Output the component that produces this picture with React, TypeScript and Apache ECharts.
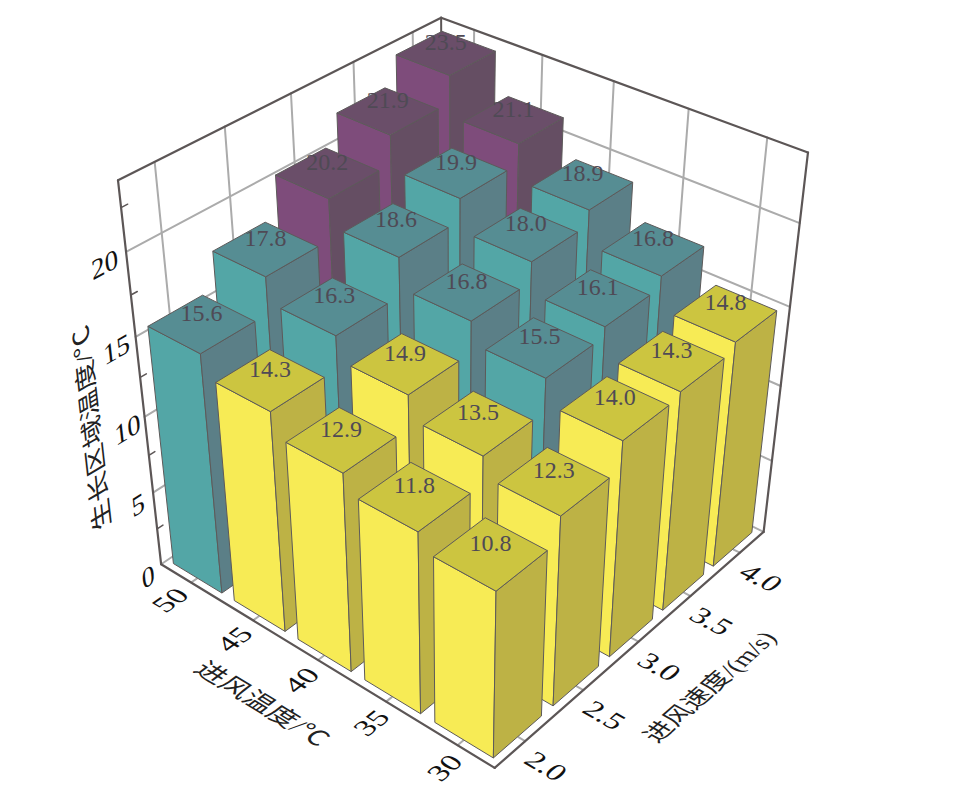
import React, { useEffect, useRef } from "react";
import * as echarts from "echarts";

const temps = ["30", "35", "40", "45", "50"];
const speeds = ["2.0", "2.5", "3.0", "3.5", "4.0"];
const at30 = [10.8, 12.3, 14.0, 14.3, 14.8];
const at35 = [11.8, 13.5, 15.5, 16.1, 16.8];
const at40 = [12.9, 14.9, 16.8, 18.0, 18.9];
const at45 = [14.3, 16.3, 18.6, 19.9, 21.1];
const at50 = [15.6, 17.8, 20.2, 21.9, 23.5];
const table = [at30, at35, at40, at45, at50];
const zTicks = [0, 5, 10, 15, 20];
const zMinor = [2.5, 7.5, 12.5, 17.5, 22.5];
const zMax = 24;
const tempTitle = "进风温度/℃";
const speedTitle = "进风速度/(m/s)";
const valueTitle = "生长区域温度/℃";

// Camera calibration: cube corner (u, v, w) -> pixel
const calib = [
  [0, 0, 0, 495, 771],
  [1, 0, 0, 160, 560],
  [0, 1, 0, 764, 528],
  [1, 0, 1, 118, 182],
  [1, 1, 1, 441, 15],
  [0, 1, 1, 808, 154],
  [1, 1, 0, 443, 380],
  [1, 0, 20 / zMax, 127, 252],
  [0, 1, 20 / zMax, 799, 223],
];

function solveCamera(): number[] {
  const n = 11;
  const A: number[][] = Array.from({ length: n }, () => new Array(n + 1).fill(0));
  const add = (r: number[], t: number) => {
    for (let i = 0; i < n; i++) {
      for (let j = 0; j < n; j++) A[i][j] += r[i] * r[j];
      A[i][n] += r[i] * t;
    }
  };
  for (const [u, v, w, x, y] of calib) {
    add([u, v, w, 1, 0, 0, 0, 0, -x * u, -x * v, -x * w], x);
    add([0, 0, 0, 0, u, v, w, 1, -y * u, -y * v, -y * w], y);
  }
  for (let c = 0; c < n; c++) {
    let p = c;
    for (let r = c + 1; r < n; r++) if (Math.abs(A[r][c]) > Math.abs(A[p][c])) p = r;
    [A[c], A[p]] = [A[p], A[c]];
    for (let r = 0; r < n; r++) {
      if (r === c) continue;
      const f = A[r][c] / A[c][c];
      for (let k = c; k <= n; k++) A[r][k] -= f * A[c][k];
    }
  }
  return A.map((row, i) => row[n] / row[i]);
}
const cam = solveCamera();
function proj(u: number, v: number, w: number): number[] {
  const d = cam[8] * u + cam[9] * v + cam[10] * w + 1;
  return [
    (cam[0] * u + cam[1] * v + cam[2] * w + cam[3]) / d,
    (cam[4] * u + cam[5] * v + cam[6] * w + cam[7]) / d,
  ];
}
function dir(a: number[], b: number[]): number[] {
  const p = proj(a[0], a[1], a[2]);
  const q = proj(b[0], b[1], b[2]);
  const l = Math.hypot(q[0] - p[0], q[1] - p[1]);
  return [(q[0] - p[0]) / l, (q[1] - p[1]) / l];
}

const FONT = '"Liberation Serif", "Noto Sans CJK SC", serif';

// Text with an arbitrary affine map, expressed as rotation-scale-rotation
function skewText(text: string, x: number, y: number, read: number[], up: number[], kr: number, ku: number, size: number, fill = "#111") {
  const m00 = read[0] * kr, m10 = read[1] * kr, m01 = -up[0] * ku, m11 = -up[1] * ku;
  const E = (m00 + m11) / 2, F = (m00 - m11) / 2, G = (m10 + m01) / 2, H = (m10 - m01) / 2;
  const Q = Math.hypot(E, H), R = Math.hypot(F, G);
  const a1 = Math.atan2(G, F), a2 = Math.atan2(H, E);
  const theta = (a2 - a1) / 2, phi = (a2 + a1) / 2;
  return {
    type: "group", x, y, rotation: -phi, silent: true,
    children: [{
      type: "group", scaleX: Q + R, scaleY: Q - R,
      children: [{
        type: "text", rotation: -theta,
        style: { text, fill, font: `${size}px ${FONT}`, align: "center", verticalAlign: "middle" },
      }],
    }],
  };
}

function seg(a: number[], b: number[], stroke: string, lineWidth: number) {
  const p = proj(a[0], a[1], a[2]);
  const q = proj(b[0], b[1], b[2]);
  return { type: "line", silent: true, shape: { x1: p[0], y1: p[1], x2: q[0], y2: q[1] }, style: { stroke, lineWidth, lineCap: "round" } };
}

const GRID = "#ababab";
const FRAME = "#5c5656";

function frameItem() {
  const ch: any[] = [];
  const cells = [0.1, 0.3, 0.5, 0.7, 0.9];
  // floor edges
  ch.push(seg([1, 0, 0], [1, 1, 0], GRID, 2), seg([0, 1, 0], [1, 1, 0], GRID, 2));
  // wall grid
  for (const t of cells) {
    ch.push(seg([1, t, 0], [1, t, 1], GRID, 2));
    ch.push(seg([t, 1, 0], [t, 1, 1], GRID, 2));
  }
  for (const z of zTicks.slice(1)) {
    const w = z / zMax;
    ch.push(seg([1, 0, w], [1, 1, w], GRID, 2));
    ch.push(seg([0, 1, w], [1, 1, w], GRID, 2));
  }
  // ticks
  for (const t of cells) {
    ch.push(seg([t, 0, 0], [t, 0.018, 0], GRID, 2));
    ch.push(seg([0, t, 0], [0.018, t, 0], GRID, 2));
  }
  for (const z of zMinor) ch.push(seg([1, 0, z / zMax], [1, 0.018, z / zMax], FRAME, 1.5));
  // frame
  ch.push(seg([1, 1, 1], [1, 1, 0.94], FRAME, 2));
  const loop = [[1, 0, 0], [0, 0, 0], [0, 1, 0], [0, 1, 1], [1, 1, 1], [1, 0, 1], [1, 0, 0]];
  for (let i = 0; i < loop.length - 1; i++) ch.push(seg(loop[i], loop[i + 1], FRAME, 2.2));

  // tick labels
  temps.forEach((s, i) => {
    const u = cells[i];
    const p = proj(u, 0, 0);
    ch.push(skewText(s, p[0] - 22 + (1 - u) * 10, p[1] + 17 + (1 - u) * 6, dir([u, 0, 0], [u, 1, 0]), dir([u, 0, 0], [1.2, 0, 0]), 1.25, 1.1, 25));
  });
  speeds.forEach((s, i) => {
    const v = cells[i];
    const p = proj(0, v, 0);
    ch.push(skewText(s, p[0] + 21, p[1] + 25, dir([1, v, 0], [0, v, 0]), dir([0, v, 0], [0, 1.2, 0]), 1.25, 1.1, 25));
  });
  zTicks.forEach((z) => {
    const w = z / zMax;
    const p = proj(1, 0, w);
    ch.push(skewText(String(z), p[0] - 13 - w * 10, p[1] + 12, dir([1, 0, w], [1, 1, w]), dir([1, 0, 0], [1, 0, 1]), 1.2, 1.1, 25));
  });
  // axis titles
  ch.push(skewText(tempTitle, 262, 704, dir([0, 0, 0], [1, 0, 0]).map((c) => -c), dir([0.5, 0, 0], [0.5, 1, 0]), 1.27, 1.15, 22, "#222"));
  ch.push(skewText(speedTitle, 710, 687, dir([0, 0, 0], [0, 1, 0]), dir([0, 0.5, 0], [1, 0.5, 0]), 1.14, 1.15, 22, "#222"));
  ch.push(skewText(valueTitle, 92, 428, dir([1, 0, 0], [1, 0, 1]), dir([1, 1, 0.5], [1, 0, 0.5]), 1.27, 1.15, 22, "#222"));
  return { type: "group", children: ch };
}

const YELLOW = { front: "#f7eb55", side: "#bdb245", top: "#ccc540" };
const TEAL = { front: "#53a6a6", side: "#5b7f87", top: "#568d93" };
const PURPLE = { front: "#7e4c7b", side: "#654e63", top: "#6a4e69" };
const paletteFor = (z: number) => (z < 15 ? YELLOW : z < 20 ? TEAL : PURPLE);

const GRID_SIZE = 700;

export default function App() {
  const ref = useRef<HTMLDivElement>(null);
  useEffect(() => {
    const chart = echarts.init(ref.current!, undefined, { renderer: "svg" });
    const rows: number[][] = [];
    table.forEach((line, i) => line.forEach((z, j) => rows.push([i, j, z])));
    rows.sort((a, b) => b[0] + b[1] - (a[0] + a[1]));
    chart.setOption({
      animation: false,
      backgroundColor: "#ffffff",
      grid: { left: 0, top: 0, width: GRID_SIZE, height: GRID_SIZE, show: false, outerBoundsMode: "none" },
      xAxis: { type: "category", data: temps, show: false },
      yAxis: { type: "category", data: speeds, show: false },
      series: [
        {
          type: "custom", coordinateSystem: "none", silent: true, z: 1,
          data: [[0]],
          renderItem: () => frameItem(),
        },
        {
          type: "custom", coordinateSystem: "cartesian2d", z: 2, silent: true,
          encode: { x: 0, y: 1 },
          data: rows,
          renderItem: (_: any, api: any) => {
            const c = api.coord([api.value(0), api.value(1)]);
            const size = api.size([1, 1]);
            const z = api.value(2);
            const u = c[0] / GRID_SIZE, v = 1 - c[1] / GRID_SIZE;
            const hu = (size[0] / GRID_SIZE) * 0.4, hv = (size[1] / GRID_SIZE) * 0.4;
            const u0 = u - hu, u1 = u + hu, v0 = v - hv, v1 = v + hv, w = z / zMax;
            const pal = paletteFor(z);
            const st = (fill: string) => ({ fill, stroke: "#5d5a5a", lineWidth: 1, lineJoin: "round" });
            const lab = proj(u, v, w);
            return {
              type: "group",
              children: [
                { type: "polygon", shape: { points: [proj(u0, v0, 0), proj(u1, v0, 0), proj(u1, v0, w), proj(u0, v0, w)] }, style: st(pal.front) },
                { type: "polygon", shape: { points: [proj(u0, v0, 0), proj(u0, v1, 0), proj(u0, v1, w), proj(u0, v0, w)] }, style: st(pal.side) },
                { type: "polygon", shape: { points: [proj(u0, v0, w), proj(u1, v0, w), proj(u1, v1, w), proj(u0, v1, w)] }, style: st(pal.top) },
                {
                  type: "text", x: lab[0], y: lab[1] - 11,
                  style: { text: z.toFixed(1), fill: "#4f4a55", font: `24px ${FONT}`, align: "center", verticalAlign: "middle" },
                },
              ],
            };
          },
        },
      ],
    });
    return () => chart.dispose();
  }, []);
  return <div ref={ref} style={{ position: "absolute", left: 0, top: 0, width: 976, height: 793 }} />;
}
